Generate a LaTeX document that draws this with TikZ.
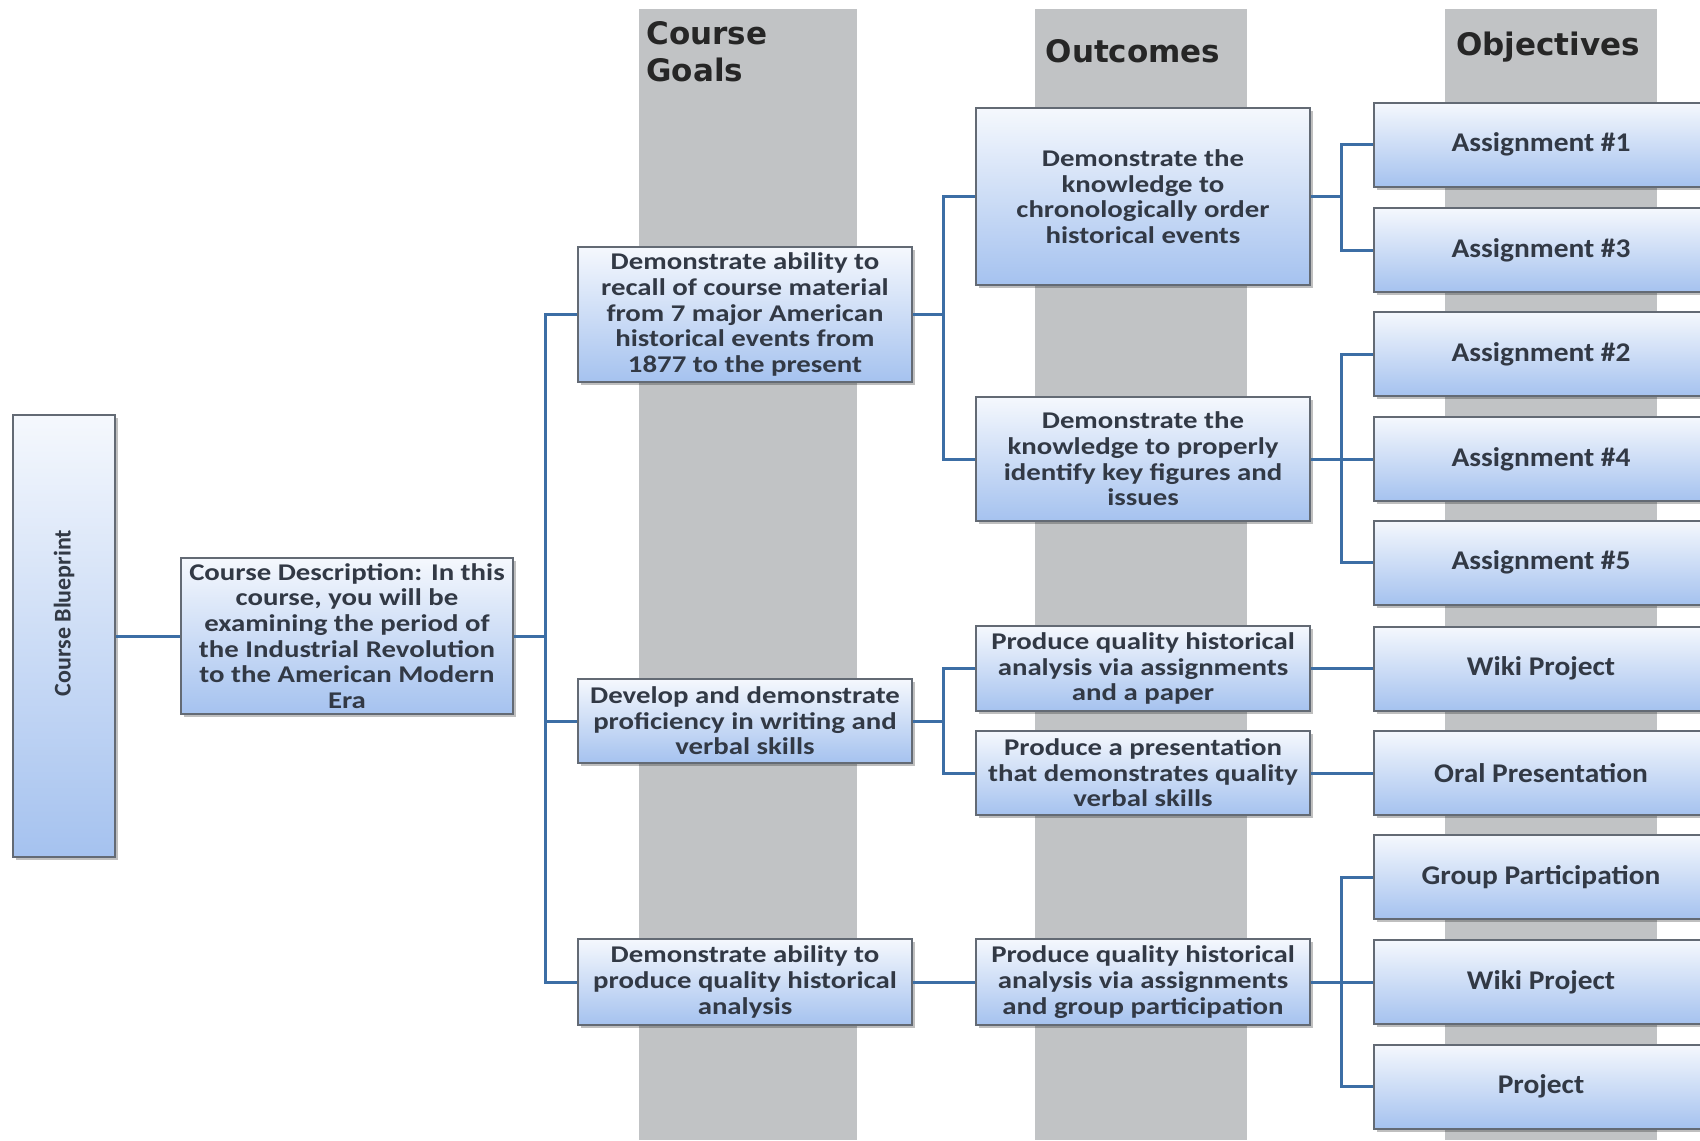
\documentclass[tikz,border=0pt]{standalone}
\usepackage{fontspec}
\setmainfont{Carlito}
\newfontfamily\boxfont[FakeStretch=1.2]{Carlito}
\newfontfamily\objfont[FakeStretch=1.09]{Carlito}
\newfontfamily\hdfont{DejaVu Sans}
\usetikzlibrary{shadows}
\definecolor{colgray}{HTML}{C1C3C5}
\definecolor{connc}{HTML}{3C6EA5}
\definecolor{boxtop}{HTML}{F5F8FD}
\definecolor{boxbot}{HTML}{A5C2EF}
\definecolor{boxedge}{HTML}{636A74}
\definecolor{txt}{HTML}{323945}
\begin{document}
\begin{tikzpicture}[x=0.5pt,y=-0.5pt,
  box/.style={rectangle, draw=boxedge, line width=1pt, top color=boxtop, bottom color=boxbot,
    drop shadow={shadow xshift=1.5pt,shadow yshift=-1.5pt,fill=black,opacity=0.25},
    text=txt, font=\boxfont\bfseries\fontsize{12}{12.8}\selectfont, align=center, inner sep=1pt},
  obj/.style={box, font=\objfont\bfseries\fontsize{13.5}{15}\selectfont, minimum width=167pt, minimum height=42pt},
  gbox/.style={box, minimum width=167pt},
  conn/.style={draw=connc, line width=1.5pt, line join=miter},
  column/.style={fill=colgray, draw=none},
  head/.style={font=\hdfont\bfseries\fontsize{15.5}{18.5}\selectfont, text=black!85, inner sep=0pt}]
\useasboundingbox (0,0) rectangle (1700,1140);
\clip (0,0) rectangle (1700,1140);
\fill[white] (0,0) rectangle (1700,1140);
% columns
\fill[column] (639,9) rectangle (857,1140);
\fill[column] (1035,9) rectangle (1247,1140);
\fill[column] (1445,9) rectangle (1657,1140);
\node[head, align=left, anchor=north west] (hg) at (646,21) {Course\\Goals};
\node[head] (ho) at (1133,51) {Outcomes};
\node[head] (hj) at (1548,47) {Objectives};
% boxes
\node[box, minimum width=51pt, minimum height=221pt, font=\setmainfont{Carlito}\bfseries\fontsize{12}{13}\selectfont] (bp) at (64,636) {\rotatebox{90}{\hspace{23pt}Course Blueprint}};
\node[box, minimum width=166pt, minimum height=78pt] (desc) at (347,636) {Course Description: In this\\course, you will be\\examining the period of\\the Industrial Revolution\\to the American Modern\\Era};
\node[gbox, minimum height=67.5pt] (g1) at (745,314.5) {Demonstrate ability to\\recall of course material\\from 7 major American\\historical events from\\1877 to the present};
\node[gbox, minimum height=42pt] (g2) at (745,721) {Develop and demonstrate\\proficiency in writing and\\verbal skills};
\node[gbox, minimum height=43pt] (g3) at (745,982) {Demonstrate ability to\\produce quality historical\\analysis};
\node[gbox, minimum height=88.5pt] (o1) at (1143,196.5) {Demonstrate the\\knowledge to\\chronologically order\\historical events};
\node[gbox, minimum height=62pt] (o2) at (1143,459) {Demonstrate the\\knowledge to properly\\identify key figures and\\issues};
\node[gbox, minimum height=42.5pt] (o3) at (1143,668.5) {Produce quality historical\\analysis via assignments\\and a paper};
\node[gbox, minimum height=42pt] (o4) at (1143,773) {Produce a presentation\\that demonstrates quality\\verbal skills};
\node[gbox, minimum height=43pt] (o5) at (1143,982) {Produce quality historical\\analysis via assignments\\and group participation};
\node[obj] (a1) at (1541,144.5) {Assignment \#1};
\node[obj] (a3) at (1541,250) {Assignment \#3};
\node[obj] (a2) at (1541,354) {Assignment \#2};
\node[obj] (a4) at (1541,459) {Assignment \#4};
\node[obj] (a5) at (1541,562.5) {Assignment \#5};
\node[obj] (w1) at (1541,668.5) {Wiki Project};
\node[obj] (oral) at (1541,773) {Oral Presentation};
\node[obj] (grp) at (1541,877) {Group Participation};
\node[obj] (w2) at (1541,982) {Wiki Project};
\node[obj] (prj) at (1541,1086.5) {Project};
% connectors
\coordinate (tA) at (545,0);
\coordinate (tB) at (943,0);
\coordinate (tC) at (1341,0);
\draw[conn] (bp.east) -- (desc.west);
\draw[conn] (desc.east) -- (desc.east -| tA);
\draw[conn] (g1.west) -- (g1.west -| tA) -- (g3.west -| tA) -- (g3.west);
\draw[conn] (g2.west) -- (g2.west -| tA);
\draw[conn] (g1.east) -- (g1.east -| tB);
\draw[conn] (o1.west) -- (o1.west -| tB) -- (o2.west -| tB) -- (o2.west);
\draw[conn] (g2.east) -- (g2.east -| tB);
\draw[conn] (o3.west) -- (o3.west -| tB) -- (o4.west -| tB) -- (o4.west);
\draw[conn] (g3.east) -- (o5.west);
\draw[conn] (o1.east) -- (o1.east -| tC);
\draw[conn] (a1.west) -- (a1.west -| tC) -- (a3.west -| tC) -- (a3.west);
\draw[conn] (o2.east) -- (o2.east -| tC);
\draw[conn] (a2.west) -- (a2.west -| tC) -- (a5.west -| tC) -- (a5.west);
\draw[conn] (a4.west) -- (a4.west -| tC);
\draw[conn] (o3.east) -- (w1.west);
\draw[conn] (o4.east) -- (oral.west);
\draw[conn] (o5.east) -- (o5.east -| tC);
\draw[conn] (grp.west) -- (grp.west -| tC) -- (prj.west -| tC) -- (prj.west);
\draw[conn] (w2.west) -- (w2.west -| tC);
\end{tikzpicture}
\end{document}
